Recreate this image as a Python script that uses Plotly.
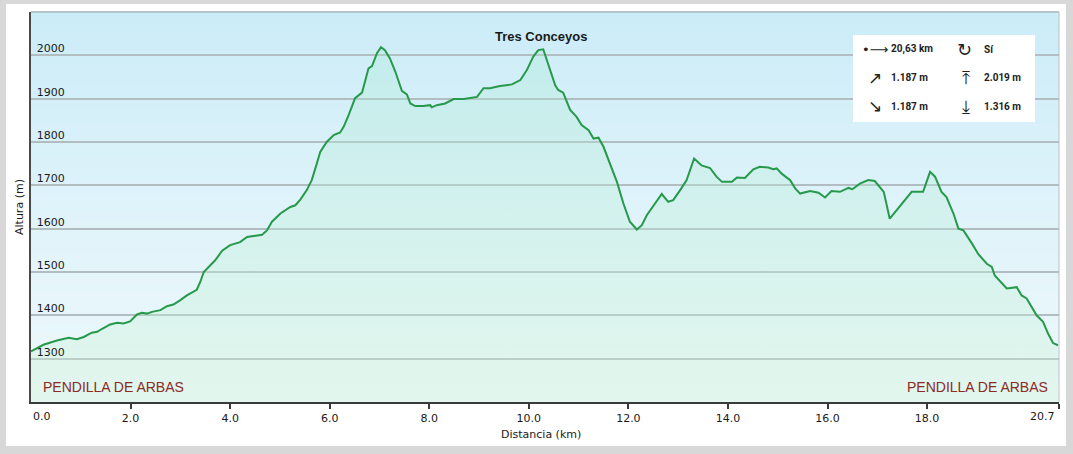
import plotly.graph_objects as go

# ---------------- data ----------------
dist_km = [0.00, 0.25, 0.52, 0.755, 0.92, 1.06, 1.22, 1.33, 1.43, 1.59, 1.73, 1.86, 1.99,
           2.13, 2.23, 2.33, 2.43, 2.60, 2.73, 2.86, 3.00, 3.13, 3.33, 3.40, 3.47, 3.60,
           3.70, 3.84, 4.00, 4.20, 4.34, 4.47, 4.64, 4.74, 4.84, 5.01, 5.21, 5.31, 5.41,
           5.54, 5.64, 5.74, 5.81, 5.94, 6.08, 6.21, 6.28, 6.38, 6.51, 6.65, 6.71, 6.78,
           6.85, 6.95, 7.03, 7.11, 7.21, 7.32, 7.45, 7.55, 7.62, 7.72, 7.88, 8.02, 8.05,
           8.15, 8.32, 8.49, 8.69, 8.96, 9.09, 9.22, 9.42, 9.66, 9.83, 9.96, 10.09, 10.19,
           10.29, 10.39, 10.53, 10.59, 10.69, 10.83, 10.96, 11.06, 11.20, 11.30, 11.40,
           11.50, 11.63, 11.77, 11.90, 12.03, 12.17, 12.27, 12.37, 12.54, 12.67, 12.80,
           12.90, 13.04, 13.17, 13.32, 13.47, 13.64, 13.77, 13.88, 14.08, 14.18, 14.34,
           14.51, 14.64, 14.81, 14.91, 14.98, 15.08, 15.25, 15.35, 15.45, 15.65, 15.82,
           15.95, 16.08, 16.25, 16.42, 16.50, 16.65, 16.82, 16.95, 17.05, 17.13, 17.25,
           17.39, 17.52, 17.69, 17.92, 18.06, 18.16, 18.29, 18.39, 18.53, 18.63, 18.73,
           18.90, 19.03, 19.20, 19.30, 19.36, 19.60, 19.80, 19.90, 20.00, 20.20, 20.33,
           20.43, 20.53, 20.63]
alt_m = [1317, 1332, 1342, 1348, 1345, 1350, 1360, 1362, 1369, 1379, 1383, 1381, 1386,
         1402, 1406, 1404, 1408, 1412, 1421, 1425, 1435, 1446, 1459, 1477, 1500, 1515,
         1527, 1549, 1562, 1569, 1581, 1583, 1586, 1596, 1616, 1635, 1650, 1654, 1667,
         1689, 1712, 1750, 1777, 1800, 1816, 1822, 1835, 1862, 1901, 1914, 1943, 1970,
         1975, 2005, 2019, 2012, 1993, 1962, 1918, 1910, 1889, 1883, 1883, 1885, 1880,
         1885, 1889, 1899, 1899, 1904, 1924, 1924, 1929, 1933, 1943, 1966, 1997, 2012,
         2014, 1981, 1931, 1920, 1914, 1874, 1858, 1839, 1827, 1808, 1810,
         1789, 1750, 1708, 1658, 1616, 1598, 1608, 1631, 1658, 1680, 1662,
         1666, 1689, 1712, 1762, 1746, 1740, 1720, 1708, 1708, 1718, 1717,
         1737, 1743, 1741, 1737, 1739, 1727, 1712, 1693, 1681, 1687, 1683,
         1672, 1687, 1685, 1694, 1691, 1704, 1712, 1710, 1696, 1685, 1623,
         1643, 1662, 1685, 1685, 1731, 1720, 1685, 1673, 1635, 1600, 1596,
         1566, 1541, 1519, 1512, 1492, 1462, 1465, 1446, 1439, 1400, 1385,
         1358, 1336, 1331]

title_text = "Tres Conceyos"
start_label = "PENDILLA DE ARBAS"
end_label = "PENDILLA DE ARBAS"
x_title = "Distancia (km)"
y_title = "Altura (m)"

x_tick_vals = [0, 2, 4, 6, 8, 10, 12, 14, 16, 18, 20.65]
x_tick_text = ["", "2.0", "4.0", "6.0", "8.0", "10.0", "12.0", "14.0", "16.0", "18.0", ""]
x_first_label = "0.0"
x_last_label = "20.7"
y_tick_vals = [1300, 1400, 1500, 1600, 1700, 1800, 1900, 2000]

x_range = [0, 20.65]
y_range = [1200, 2100]

info_icons = ["\u2022\u27f6", "\u21bb", "\u2197", "\u2912", "\u2198", "\u2913"]
info_texts = ["20,63 km", "Sí", "1.187 m", "2.019 m", "1.187 m", "1.316 m"]

# ---------------- layout helpers ----------------
FIG_W, FIG_H = 1073, 454
ML, MR, MT, MB = 31, 14, 12, 52
PW = FIG_W - ML - MR
PH = FIG_H - MT - MB


def px2x(px):
    return (px - ML) / PW


def py2y(py):
    return (FIG_H - MB - py) / PH


def lerp(c1, c2, t):
    return tuple(round(a + (b - a) * t) for a, b in zip(c1, c2))


fig = go.Figure()

fig.add_trace(go.Scatter(
    x=dist_km, y=alt_m, mode="lines",
    line=dict(color="#26994a", width=2),
    fill="tozeroy",
    fillgradient=dict(type="vertical", start=y_range[0], stop=y_range[1],
                      colorscale=[[0, "rgba(205,242,212,0.36)"],
                                  [0.5, "rgba(185,238,212,0.32)"],
                                  [1, "rgba(165,232,210,0.30)"]]),
    hoverinfo="skip",
))

shapes = []
# outer frame: white panel on grey paper
shapes.append(dict(type="rect", xref="paper", yref="paper", layer="below",
                   x0=px2x(6), x1=px2x(1066), y0=py2y(446), y1=py2y(4),
                   fillcolor="white", line=dict(width=0)))
# background gradient bands in the plot area
top_c = (203, 236, 248)
mid_c = (223, 243, 250)
bot_c = (238, 249, 251)
N = 60
for i in range(N):
    t = (i + 0.5) / N  # 0 bottom .. 1 top
    if t < 0.5:
        c = lerp(bot_c, mid_c, t / 0.5)
    else:
        c = lerp(mid_c, top_c, (t - 0.5) / 0.5)
    shapes.append(dict(type="rect", xref="paper", yref="paper", layer="below",
                       x0=0, x1=1, y0=i / N, y1=(i + 1) / N + 0.002,
                       fillcolor="rgb(%d,%d,%d)" % c, line=dict(width=0)))
# top and right borders of plot area
shapes.append(dict(type="line", xref="paper", yref="paper", x0=0, x1=1, y0=1, y1=1,
                   line=dict(color="#a9b6bb", width=1.5)))
shapes.append(dict(type="line", xref="paper", yref="paper", x0=1, x1=1, y0=0, y1=1,
                   line=dict(color="#b8c0c4", width=1)))
# info box
shapes.append(dict(type="rect", xref="paper", yref="paper",
                   x0=px2x(853), x1=px2x(1035), y0=py2y(122), y1=py2y(35),
                   fillcolor="white", line=dict(width=0)))

annotations = []
annotations.append(dict(text="<b>%s</b>" % title_text, xref="paper", yref="paper",
                        x=px2x(541), y=py2y(36), showarrow=False, xanchor="center", yanchor="middle",
                        font=dict(family="Liberation Sans, Arial", size=13, color="#1a1a1a")))
annotations.append(dict(text=start_label, xref="paper", yref="paper",
                        x=px2x(41), y=py2y(387), showarrow=False, xanchor="left", yanchor="middle",
                        font=dict(family="Liberation Sans, Arial", size=14, color="#8b2b24")))
annotations.append(dict(text=end_label, xref="paper", yref="paper",
                        x=px2x(1050), y=py2y(387), showarrow=False, xanchor="right", yanchor="middle",
                        font=dict(family="Liberation Sans, Arial", size=14, color="#8b2b24")))
annotations.append(dict(text=x_title, xref="paper", yref="paper",
                        x=px2x(541), y=py2y(435), showarrow=False, xanchor="center", yanchor="middle",
                        font=dict(family="DejaVu Sans, Verdana", size=11, color="#1a1a1a")))
annotations.append(dict(text=y_title, xref="paper", yref="paper", textangle=-90,
                        x=px2x(19), y=py2y(207), showarrow=False, xanchor="center", yanchor="middle",
                        font=dict(family="DejaVu Sans, Verdana", size=11, color="#1a1a1a")))
annotations.append(dict(text=x_first_label, xref="paper", yref="paper",
                        x=px2x(31), y=py2y(416), showarrow=False, xanchor="left", yanchor="middle",
                        font=dict(family="DejaVu Sans, Verdana", size=11, color="#1a1a1a")))
annotations.append(dict(text=x_last_label, xref="paper", yref="paper",
                        x=px2x(1057), y=py2y(416), showarrow=False, xanchor="right", yanchor="middle",
                        font=dict(family="DejaVu Sans, Verdana", size=11, color="#1a1a1a")))

icon_pos = [(875, 49), (964, 49), (875, 78), (966, 78), (875, 106), (966, 106)]
icon_size = [13, 18, 17, 18, 17, 18]
text_pos = [(889, 49), (982, 49), (889, 78), (982, 78), (889, 106), (982, 106)]
for ic, tx, (ix, iy), isz, (tx_x, tx_y) in zip(info_icons, info_texts, icon_pos, icon_size, text_pos):
    annotations.append(dict(text=ic, xref="paper", yref="paper", x=px2x(ix), y=py2y(iy),
                            showarrow=False, xanchor="center", yanchor="middle",
                            font=dict(family="DejaVu Sans", size=isz, color="#222222")))
    annotations.append(dict(text="<b>%s</b>" % tx, xref="paper", yref="paper", x=px2x(tx_x), y=py2y(tx_y),
                            showarrow=False, xanchor="left", yanchor="middle",
                            font=dict(family="Roboto, Inter", size=10, color="#222222")))

fig.update_layout(
    width=FIG_W, height=FIG_H,
    margin=dict(l=ML, r=MR, t=MT, b=MB),
    paper_bgcolor="#d8d8d8", plot_bgcolor="white",
    showlegend=False,
    shapes=shapes, annotations=annotations,
    xaxis=dict(range=x_range, tickvals=x_tick_vals, ticktext=x_tick_text,
               showgrid=False, zeroline=False, showline=True, linecolor="#3a3a3a", linewidth=2,
               ticks="outside", ticklen=5, tickwidth=1.5, tickcolor="#3a3a3a",
               tickfont=dict(family="DejaVu Sans, Verdana", size=11, color="#1a1a1a"),
               fixedrange=True),
    yaxis=dict(range=y_range, tickvals=y_tick_vals,
               showgrid=True, gridcolor="#b2bdc2", gridwidth=1.5, zeroline=False,
               showline=True, linecolor="#4a4a4a", linewidth=2, ticks="",
               ticklabelposition="inside", ticklabelshift=-7, ticklabelstandoff=5,
               tickfont=dict(family="DejaVu Sans, Verdana", size=11, color="#1a1a1a"),
               fixedrange=True),
)

fig.write_html("out.html", config={"displayModeBar": False},
               post_script="document.body.style.margin='0px';document.body.style.overflow='hidden';")
